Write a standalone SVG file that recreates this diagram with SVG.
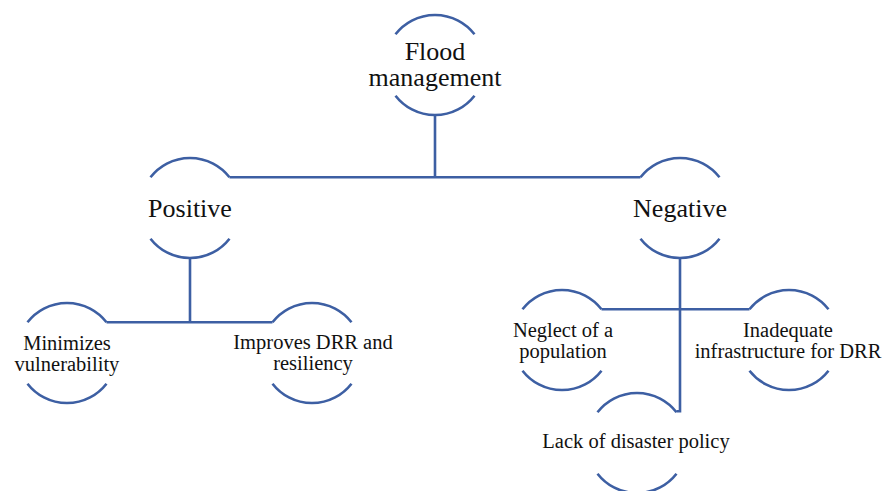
<svg xmlns="http://www.w3.org/2000/svg" width="887" height="491" viewBox="0 0 887 491">
<style>
.arc{fill:none;stroke:#3d5fa3;stroke-width:2.6}
.con{fill:none;stroke:#3d5fa3;stroke-width:2.6}
.t1{font-family:"Liberation Serif","Times New Roman",serif;font-size:26px;fill:#111;text-anchor:middle}
.t2{font-family:"Liberation Serif","Times New Roman",serif;font-size:20.5px;fill:#111;text-anchor:middle}
</style>
<defs>
<path id="caps" d="M-39.5 -30.7 A50 50 0 0 1 39.5 -30.7 M-39.5 30.7 A50 50 0 0 0 39.5 30.7"/>
</defs>
<rect width="887" height="491" fill="#fff"/>
<g id="connectors">
<path class="con" d="M435 115 V177.3 M229.5 177.3 H640.5"/>
<path class="con" d="M190 258 V322.3 M106.5 322.3 H272.5"/>
<path class="con" d="M680 258 V411.3 H676.5 M601.5 309.3 H749.5"/>
</g>
<g id="flood"><use href="#caps" class="arc" x="435" y="65"/><text class="t1" x="435" y="60">Flood</text><text class="t1" x="435" y="86">management</text></g>
<g id="positive"><use href="#caps" class="arc" x="190" y="208"/><text class="t1" x="190" y="217">Positive</text></g>
<g id="negative"><use href="#caps" class="arc" x="680" y="208"/><text class="t1" x="680" y="217">Negative</text></g>
<g id="minimizes"><use href="#caps" class="arc" x="67" y="353"/><text class="t2" x="67" y="350">Minimizes</text><text class="t2" x="67" y="371">vulnerability</text></g>
<g id="improves"><use href="#caps" class="arc" x="312" y="353"/><text class="t2" x="313" y="349">Improves DRR and</text><text class="t2" x="313" y="370">resiliency</text></g>
<g id="neglect"><use href="#caps" class="arc" x="562" y="340"/><text class="t2" x="563" y="337">Neglect of a</text><text class="t2" x="563" y="358">population</text></g>
<g id="inadequate"><use href="#caps" class="arc" x="789" y="340"/><text class="t2" x="788" y="337">Inadequate</text><text class="t2" x="788" y="358">infrastructure for DRR</text></g>
<g id="lack"><use href="#caps" class="arc" x="637" y="443"/><text class="t2" x="636" y="448">Lack of disaster policy</text></g>
</svg>
